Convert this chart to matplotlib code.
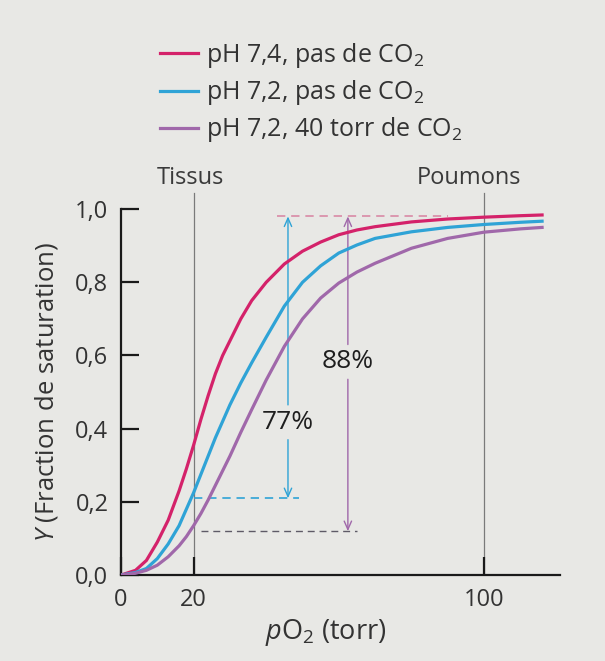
import matplotlib.pyplot as plt

# Courbes de saturation de l'hémoglobine
po2 = [0, 4, 7, 10, 13, 16, 18, 20, 22, 24, 26, 28, 30, 33, 36, 40, 45, 50, 55, 60, 65, 70,
       80, 90, 100, 110, 116]
y_ph74 = [0, 0.013, 0.04, 0.09, 0.15, 0.23, 0.29, 0.355, 0.425, 0.49, 0.55, 0.60, 0.64, 0.70,
          0.75, 0.80, 0.85, 0.885, 0.91, 0.93, 0.943, 0.952, 0.965, 0.973, 0.978, 0.982, 0.984]
y_ph72 = [0, 0.007, 0.018, 0.045, 0.085, 0.135, 0.18, 0.225, 0.275, 0.325, 0.375, 0.42, 0.465,
          0.525, 0.58, 0.65, 0.735, 0.80, 0.845, 0.88, 0.902, 0.92, 0.938, 0.95, 0.958, 0.964,
          0.967]
y_co2 = [0, 0.005, 0.013, 0.027, 0.05, 0.08, 0.105, 0.135, 0.168, 0.205, 0.245, 0.285, 0.325,
         0.39, 0.452, 0.533, 0.625, 0.70, 0.757, 0.798, 0.828, 0.852, 0.893, 0.92, 0.937,
         0.946, 0.95]
labels = ["pH 7,4, pas de CO$_2$", "pH 7,2, pas de CO$_2$", "pH 7,2, 40 torr de CO$_2$"]

# repères Tissus / Poumons
zones = [20, 100]
zone_names = ["Tissus", "Poumons"]
zone_shift = [-1, -4]

# niveaux de saturation pour les flèches
y_top = 0.98
y_low_72 = 0.21
y_low_co2 = 0.12
x_arrow_72 = 46
x_arrow_co2 = 62.5

yticks = [0, 0.2, 0.4, 0.6, 0.8, 1.0]
ytick_labels = ["0,0", "0,2", "0,4", "0,6", "0,8", "1,0"]
xticks = [0, 20, 100]

red = "#d4226a"
blue = "#2fa3d6"
purple = "#a068aa"
ink = "#262626"
bg = "#e8e8e5"

plt.rcParams["font.family"] = ["Open Sans", "DejaVu Sans"]
plt.rcParams["mathtext.fontset"] = "custom"
plt.rcParams["mathtext.rm"] = "Open Sans"
plt.rcParams["mathtext.it"] = "Open Sans:italic"
plt.rcParams["text.color"] = ink

fig = plt.figure(figsize=(6.05, 6.61), dpi=100, facecolor=bg)
ax = fig.add_axes([0.2, 0.13, 0.726, 0.609])
ax.set_facecolor(bg)

# lignes verticales
for z, name, dz in zip(zones, zone_names, zone_shift):
    ax.plot([z, z], [0, 1.045], color="#7a7a7a", lw=0.9, zorder=1)
    ax.text(z + dz, 1.052, name, ha="center", va="bottom", fontsize=17, color="#3a3a3a")

l1, = ax.plot(po2, y_ph74, color=red, lw=2.3, zorder=4)
l2, = ax.plot(po2, y_ph72, color=blue, lw=2.3, zorder=4)
l3, = ax.plot(po2, y_co2, color=purple, lw=2.3, zorder=4)

# pointillés
ax.hlines(y_top, 43, 90, colors="#d98aa6", linestyles=(0, (5, 3.5)), lw=1.2, zorder=2)
ax.hlines(y_low_72, 20, 49, colors=blue, linestyles=(0, (5, 3.5)), lw=1.2, zorder=2)
ax.hlines(y_low_co2, 22, 65, colors="#5e5a66", linestyles=(0, (5, 3.5)), lw=1.0, zorder=2)

arrow = dict(arrowstyle="->, head_length=0.5, head_width=0.22", lw=1.0, mutation_scale=12,
             shrinkA=0, shrinkB=0)
ax.annotate("", xy=(x_arrow_72, y_top), xytext=(x_arrow_72, 0.465),
            arrowprops=dict(arrow, color=blue))
ax.annotate("", xy=(x_arrow_72, y_low_72), xytext=(x_arrow_72, 0.37),
            arrowprops=dict(arrow, color=blue))
ax.annotate("", xy=(x_arrow_co2, y_top), xytext=(x_arrow_co2, 0.63),
            arrowprops=dict(arrow, color=purple))
ax.annotate("", xy=(x_arrow_co2, y_low_co2), xytext=(x_arrow_co2, 0.535),
            arrowprops=dict(arrow, color=purple))
ax.text(x_arrow_72, 0.418, "77%", ha="center", va="center", fontsize=19, color="#1e1e1e")
ax.text(x_arrow_co2, 0.584, "88%", ha="center", va="center", fontsize=19, color="#1e1e1e")

ax.set_xlim(0, 121)
ax.set_ylim(0, 1.1)
for s in ["top", "right"]:
    ax.spines[s].set_visible(False)
ax.spines["left"].set_bounds(0, 1)
for s in ["left", "bottom"]:
    ax.spines[s].set_linewidth(1.6)
    ax.spines[s].set_color("#1a1a1a")

ax.set_yticks(yticks)
ax.set_yticklabels(ytick_labels)
ax.set_xticks(xticks)
ax.set_xticklabels([str(t) for t in xticks])
ax.tick_params(axis="both", direction="in", length=13, width=1.6, color="#1a1a1a",
               labelsize=17, labelcolor="#333333")
ax.tick_params(axis="y", pad=9)
ax.tick_params(axis="x", pad=9)

ax.set_ylabel("$Y$ (Fraction de saturation)", fontsize=18.5, color="#333333")
ax.yaxis.set_label_coords(-0.14, 0.455)
ax.set_xlabel("$p$O$_2$ (torr)", fontsize=19.5, color="#333333")
ax.xaxis.set_label_coords(0.465, -0.104)

fig.legend([l1, l2, l3], labels, loc="upper left", bbox_to_anchor=(160 / 605, 1 - 41 / 661),
           frameon=False, fontsize=18, handlelength=1.5, handletextpad=0.36,
           labelspacing=0.33, borderpad=0, borderaxespad=0, labelcolor="#333333")

fig.savefig("out.png", dpi=100, facecolor=bg)
